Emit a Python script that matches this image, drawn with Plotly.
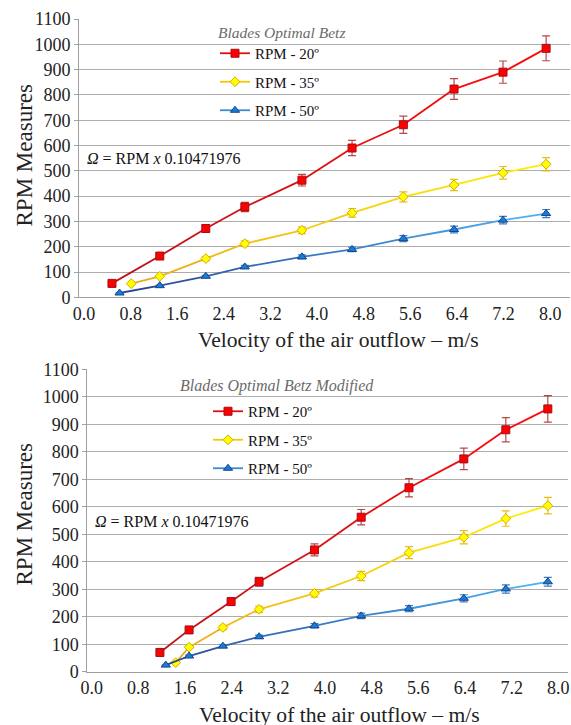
import plotly.graph_objects as go

# ---------------- data ----------------
series_names = ["RPM - 20º", "RPM - 35º", "RPM - 50º"]
x_ticks = [0.0, 0.8, 1.6, 2.4, 3.2, 4.0, 4.8, 5.6, 6.4, 7.2, 8.0]
y_ticks = [0, 100, 200, 300, 400, 500, 600, 700, 800, 900, 1000, 1100]

# Chart 1 : Blades Optimal Betz
top_x_20 = [0.48, 1.30, 2.09, 2.76, 3.74, 4.60, 5.48, 6.35, 7.19, 7.93]
top_x_35 = [0.81, 1.30, 2.09, 2.76, 3.74, 4.60, 5.48, 6.35, 7.19, 7.93]
top_x_50 = [0.61, 1.30, 2.09, 2.76, 3.74, 4.60, 5.48, 6.35, 7.19, 7.93]
top_rpm_20 = [55, 163, 272, 357, 463, 590, 682, 823, 890, 984]
top_rpm_35 = [54, 83, 153, 212, 265, 334, 397, 444, 492, 526]
top_rpm_50 = [17, 46, 83, 120, 160, 189, 232, 268, 305, 331]
top_err_20 = [3, 8, 14, 18, 23, 30, 34, 41, 44, 49]
top_err_35 = [3, 4, 8, 11, 13, 17, 20, 22, 25, 26]
top_err_50 = [1, 2, 4, 6, 8, 9, 12, 13, 15, 16]

# Chart 2 : Blades Optimal Betz Modified
bot_x_20 = [1.17, 1.67, 2.39, 2.87, 3.82, 4.62, 5.44, 6.38, 7.10, 7.82]
bot_x_35 = [1.44, 1.67, 2.25, 2.87, 3.82, 4.62, 5.44, 6.38, 7.10, 7.82]
bot_x_50 = [1.27, 1.67, 2.25, 2.87, 3.82, 4.62, 5.44, 6.38, 7.10, 7.82]
bot_rpm_20 = [70, 152, 255, 327, 443, 562, 669, 774, 880, 956]
bot_rpm_35 = [33, 89, 161, 227, 285, 348, 433, 489, 557, 604]
bot_rpm_50 = [24, 57, 93, 127, 167, 203, 229, 267, 301, 327]
bot_err_20 = [4, 8, 13, 16, 22, 28, 33, 39, 44, 48]
bot_err_35 = [2, 4, 8, 11, 14, 17, 22, 24, 28, 30]
bot_err_50 = [1, 3, 5, 6, 8, 10, 11, 13, 15, 16]

# ---------------- styles ----------------
W, H = 571, 725
FONT = "Liberation Serif"
GRID = "#ADADAD"

styles = [
    dict(c0=(190, 20, 25), c1=(255, 10, 10), symbol="square", size=8,
         fill="#FF0000", edge="#A0101A", err="rgba(170,40,40,0.85)", leg="#E01010"),
    dict(c0=(234, 170, 30), c1=(255, 236, 0), symbol="diamond", size=7.5,
         fill="#FFFF00", edge="#D9A800", err="rgba(235,180,0,0.9)", leg="#F5C800"),
    dict(c0=(40, 72, 150), c1=(75, 175, 240), symbol="triangle-up", size=8,
         fill="#1080D8", edge="#1F3F88", err="rgba(40,110,190,0.9)", leg="#3C8AD0"),
]


def px_x(p):
    return p / W


def px_y(p):
    return 1 - p / H


def lerp(c0, c1, t):
    return "rgb(%d,%d,%d)" % tuple(round(a + (b - a) * t) for a, b in zip(c0, c1))


fig = go.Figure()


def add_series(xs, ys, errs, st, name, xa, ya, legend):
    n = len(xs)
    for i in range(n - 1):
        t = i / max(n - 2, 1)
        fig.add_trace(go.Scatter(
            x=xs[i:i + 2], y=ys[i:i + 2], mode="lines",
            line=dict(color=lerp(st["c0"], st["c1"], t), width=1.8),
            xaxis=xa, yaxis=ya, showlegend=False, hoverinfo="skip"))
    fig.add_trace(go.Scatter(
        x=xs, y=ys, mode="markers", name=name, showlegend=False,
        xaxis=xa, yaxis=ya,
        marker=dict(symbol=st["symbol"], size=st["size"], color=st["fill"],
                    line=dict(color=st["edge"], width=1)),
        error_y=dict(type="data", array=errs, visible=True,
                     color=st["err"], thickness=1.2, width=4)))
    # legend entry
    fig.add_trace(go.Scatter(
        x=[None], y=[None], mode="lines+markers", name=name,
        xaxis=xa, yaxis=ya, legend=legend, legendgroup=legend + name,
        line=dict(color=st["leg"], width=1.8),
        marker=dict(symbol=st["symbol"], size=st["size"], color=st["fill"],
                    line=dict(color=st["edge"], width=1))))


top_sets = [(top_x_20, top_rpm_20, top_err_20), (top_x_35, top_rpm_35, top_err_35),
            (top_x_50, top_rpm_50, top_err_50)]
bot_sets = [(bot_x_20, bot_rpm_20, bot_err_20), (bot_x_35, bot_rpm_35, bot_err_35),
            (bot_x_50, bot_rpm_50, bot_err_50)]

for (xs, ys, es), st, nm in zip(top_sets, styles, series_names):
    add_series(xs, ys, es, st, nm, "x", "y", "legend")
for (xs, ys, es), st, nm in zip(bot_sets, styles, series_names):
    add_series(xs, ys, es, st, nm, "x2", "y2", "legend2")

tickfont = dict(family=FONT, size=18, color="#222222")

xaxis_common = dict(
    tickmode="array", tickvals=x_ticks, ticktext=["%.1f" % v for v in x_ticks],
    showgrid=False, zeroline=False, showline=True, linecolor="#A0A0A0", linewidth=1,
    ticks="", tickfont=tickfont, ticklabelstandoff=0, fixedrange=True)
yaxis_common = dict(
    range=[0, 1100], tickmode="array", tickvals=y_ticks,
    showgrid=True, gridcolor=GRID, gridwidth=1, zeroline=False,
    showline=True, linecolor="#A0A0A0", linewidth=1,
    ticks="outside", ticklen=4, tickcolor="#A0A0A0",
    tickfont=tickfont, fixedrange=True)

fig.update_layout(
    width=W, height=H, margin=dict(l=0, r=0, t=0, b=0, autoexpand=False),
    paper_bgcolor="white", plot_bgcolor="white",
    font=dict(family=FONT, color="#222222"),
    xaxis=dict(xaxis_common, domain=[px_x(79), px_x(570)], range=[-0.086, 8.34], anchor="y"),
    yaxis=dict(yaxis_common, domain=[px_y(297.3), px_y(19)], anchor="x"),
    xaxis2=dict(xaxis_common, domain=[px_x(87.3), px_x(568)], range=[-0.075, 8.166], anchor="y2"),
    yaxis2=dict(yaxis_common, domain=[px_y(671.7), px_y(369.3)], anchor="x2"),
    legend=dict(x=px_x(215), y=px_y(37), xanchor="left", yanchor="top",
                bgcolor="rgba(0,0,0,0)", borderwidth=0, tracegroupgap=6, itemwidth=30,
                font=dict(family=FONT, size=15, color="#111111")),
    legend2=dict(x=px_x(208), y=px_y(395), xanchor="left", yanchor="top",
                 bgcolor="rgba(0,0,0,0)", borderwidth=0, tracegroupgap=6, itemwidth=30,
                 font=dict(family=FONT, size=15, color="#111111")),
    showlegend=True,
    shapes=[
        dict(type="rect", xref="paper", yref="paper", layer="between",
             x0=px_x(207), x1=px_x(332), y0=px_y(116), y1=px_y(40),
             fillcolor="white", line=dict(width=0)),
        dict(type="rect", xref="paper", yref="paper", layer="between",
             x0=px_x(208), x1=px_x(317), y0=px_y(483), y1=px_y(394),
             fillcolor="white", line=dict(width=0)),
    ],
)

ann_font_y = dict(family=FONT, size=23, color="#222222")
ann_font_x = dict(family=FONT, size=21.6, color="#222222")
annotations = [
    dict(text="<i>Blades Optimal Betz</i>", x=px_x(281), y=px_y(32.5),
         font=dict(family=FONT, size=15.5, color="#6B6B6B")),
    dict(text="<i>Blades Optimal Betz Modified</i>", x=px_x(277), y=px_y(386),
         font=dict(family=FONT, size=16, color="#6B6B6B")),
    dict(text="<i>Ω</i> = RPM <i>x</i> 0.10471976", x=px_x(85), y=px_y(158),
         xanchor="left", font=dict(family=FONT, size=16, color="#111111")),
    dict(text="<i>Ω</i> = RPM <i>x</i> 0.10471976", x=px_x(93), y=px_y(521.7),
         xanchor="left", font=dict(family=FONT, size=16, color="#111111")),
    dict(text="RPM Measures", x=px_x(23.5), y=px_y(155), textangle=-90,
         font=ann_font_y),
    dict(text="RPM Measures", x=px_x(23.5), y=px_y(514), textangle=-90,
         font=ann_font_y),
    dict(text="Velocity of the air outflow – m/s", x=px_x(338.5), y=px_y(340),
         font=ann_font_x),
    dict(text="Velocity of the air outflow – m/s", x=px_x(339), y=px_y(715),
         font=ann_font_x),
]
for a in annotations:
    a.setdefault("xanchor", "center")
    a.update(xref="paper", yref="paper", yanchor="middle", showarrow=False)
fig.update_layout(annotations=annotations)

fig.write_html("out.html")
